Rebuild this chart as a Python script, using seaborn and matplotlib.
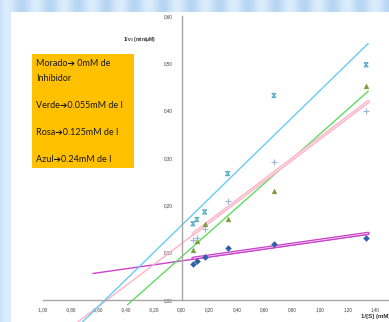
import numpy as np
import matplotlib
matplotlib.use("Agg")
import matplotlib.pyplot as plt
import seaborn as sns
from matplotlib.path import Path
from matplotlib.patches import Rectangle

# ---------------- data ----------------
inv_s = [0.083, 0.111, 0.167, 0.333, 0.667, 1.333]          # 1/[S] (mM^-1)
morado = [0.075, 0.083, 0.090, 0.110, 0.118, 0.132]          # 0 mM inhibidor
verde = [0.106, 0.124, 0.161, 0.172, 0.231, 0.452]           # 0.055 mM
rosa = [0.127, 0.131, 0.151, 0.210, 0.292, 0.399]            # 0.125 mM
azul = [0.161, 0.170, 0.186, 0.267, 0.432, 0.497]            # 0.24 mM
forecast_start = [-0.64, -0.39, -1.0, -1.0]                  # backward forecast of trendlines
x_ticks = [-1.0, -0.8, -0.6, -0.4, -0.2, 0.0, 0.2, 0.4, 0.6, 0.8, 1.0, 1.2, 1.4]
y_ticks = [0.0, 0.1, 0.2, 0.3, 0.4, 0.5, 0.6]
legend_lines = ["Morado\u2794 0mM de", "Inhibidor", "Verde\u27940.055mM de I",
                "Rosa\u27940.125mM de I", "Azul\u27940.24mM de I"]
y_title = "1/v$_0$ (min/\u00b5M)"
x_title = "1/[S] (mM)"

# ---------------- style ----------------
sns.set_style("white")
plt.rcParams["font.family"] = ["Liberation Sans", "DejaVu Sans"]

W, H = 389, 322
fig = plt.figure(figsize=(W / 100, H / 100), dpi=100)

# slide background with soft vertical stripes
bg = fig.add_axes([0, 0, 1, 1])
cols = np.arange(W)
stripe = 0.5 + 0.5 * np.sin(cols / 4.5)
img = np.zeros((1, W, 3))
c1 = np.array([0.72, 0.84, 0.95])
c2 = np.array([0.86, 0.93, 0.99])
img[0] = c1[None, :] * (1 - stripe[:, None]) + c2[None, :] * stripe[:, None]
bg.imshow(img, extent=[0, W, H, 0], aspect="auto")
bg.set_xlim(0, W)
bg.set_ylim(H, 0)
bg.add_patch(Rectangle((11, 12), W - 11, H - 12, facecolor="white", edgecolor="none"))
bg.axis("off")

# main chart axes (pixel layout: x=-1 at 43px, 0.6 at 16px from top)
x0_px, top_px, px_per_x, px_per_y = 43, 16, 138.5, 473.3
xmax = -1.0 + (W - x0_px) / px_per_x
ymin = 0.6 - (H - top_px) / px_per_y
ax = fig.add_axes([x0_px / W, 0, (W - x0_px) / W, (H - top_px) / H])
ax.set_facecolor("none")
ax.set_xlim(-1.0, xmax)
ax.set_ylim(ymin, 0.6)

series = [
    dict(y=morado, line="#C845C8", inner="#F3D0F3", mcolor="#2F5FA8", marker="D", ms=9, double=True),
    dict(y=verde, line="#5FDC5F", inner=None, mcolor="#7A9A3A", marker="^", ms=12, double=False),
    dict(y=rosa, line="#FFB3C6", inner="#FFE6EC", mcolor="#9FB2DA", marker="+", ms=20, double=True),
    dict(y=azul, line="#66CCF5", inner=None, mcolor="#5AAFC8", marker="X", ms=9, double=False),
]

xmark = Path([(-1, 1), (1, 1), (-1, -1), (1, -1), (-1, 1), (1, -1), (-1, -1), (1, 1)],
             [Path.MOVETO, Path.LINETO] * 4)

xs_arr = np.array(inv_s)
for s, start in zip(series, forecast_start):
    ys = np.array(s["y"])
    slope, icpt = np.polyfit(xs_arr, ys, 1)
    lx = np.array([start, xs_arr.max() + 0.015])
    sns.lineplot(x=lx, y=icpt + slope * lx, ax=ax, color=s["line"], lw=1.0,
                 sort=False, estimator=None, zorder=2)
    if s["double"]:
        dx = np.array([xs_arr.min(), xs_arr.max() + 0.015])
        sns.lineplot(x=dx, y=icpt + slope * dx + 0.002, ax=ax, color=s["line"], lw=2.4,
                     sort=False, estimator=None, zorder=2)
        sns.lineplot(x=dx, y=icpt + slope * dx + 0.002, ax=ax, color=s["inner"], lw=0.6,
                     sort=False, estimator=None, zorder=2)

for s in series:
    if s["marker"] == "+":
        sns.scatterplot(x=inv_s, y=s["y"], ax=ax, marker="+", color=s["mcolor"],
                        s=s["ms"], linewidth=0.8, zorder=3)
    elif s["marker"] == "X":
        ax.scatter(inv_s, s["y"], marker=xmark, facecolors="none", edgecolors=s["mcolor"],
                   s=s["ms"], linewidths=0.8, zorder=3)
    else:
        sns.scatterplot(x=inv_s, y=s["y"], ax=ax, marker=s["marker"], color=s["mcolor"],
                        s=s["ms"], edgecolor=s["mcolor"], linewidth=0.3, zorder=3)

# axes styling (Excel-like: axes crossing at 0)
for side in ["top", "right"]:
    ax.spines[side].set_visible(False)
ax.spines["left"].set_position(("data", 0))
ax.spines["bottom"].set_position(("data", 0))
ax.spines["left"].set_bounds(0, 0.6)
ax.spines["bottom"].set_bounds(-1.0, xmax)
for side in ["left", "bottom"]:
    ax.spines[side].set_color("#A6A6A6")
    ax.spines[side].set_linewidth(1.0)
ax.set_xticks(x_ticks)
ax.set_yticks(y_ticks)
ax.set_xticklabels([f"{v:.2f}".replace(".", ",") for v in x_ticks])
ax.set_yticklabels([f"{v:.2f}".replace(".", ",") for v in y_ticks])
ax.tick_params(axis="both", direction="out", length=2.5, width=0.6, color="#A6A6A6",
               labelsize=3.3, labelcolor="#404040")
ax.tick_params(axis="x", pad=2.5)
ax.tick_params(axis="y", pad=4)
ax.set_xlabel("")
ax.set_ylabel("")
ax.grid(False)

# overlay for annotations (pixel coordinates)
ov = fig.add_axes([0, 0, 1, 1], zorder=10)
ov.set_xlim(0, W)
ov.set_ylim(H, 0)
ov.axis("off")
ov.text(140, 39, y_title, fontsize=3.6, ha="center", va="center", color="#303030",
        fontweight="bold")
ov.text(361, 316.5, x_title, fontsize=4.4, ha="left", va="center", color="#303030",
        fontweight="bold")
ov.add_patch(Rectangle((32, 54), 102, 114, facecolor="#FFC000", edgecolor="none"))
legend_y = [63, 78, 105, 132, 159]
for txt, yy in zip(legend_lines, legend_y):
    ov.text(36.5, yy, txt, fontsize=6.5, ha="left", va="center", color="#1A1A1A",
            family=["Lato", "DejaVu Sans"])

fig.savefig("out.png", dpi=100)
